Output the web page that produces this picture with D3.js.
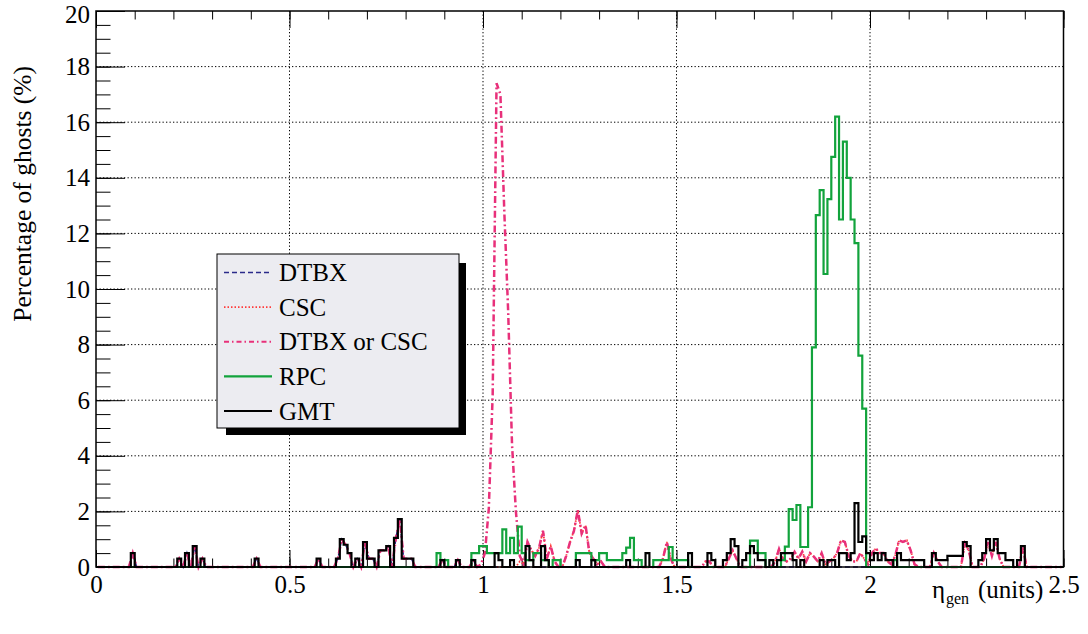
<!DOCTYPE html>
<html>
<head>
<meta charset="utf-8">
<script src="https://cdn.jsdelivr.net/npm/d3@7"></script>
<style>
  body { margin: 0; background: #fff; }
  svg { display: block; }
  svg text { font-family: "Liberation Serif", "Times New Roman", Times, "DejaVu Serif", serif !important; }
</style>
</head>
<body>
<div id="chart"></div>
<script>
// eta_gen histogram: 250 bins of 0.01 from 0 to 2.5
const etaRange = [0, 2.5];
const binWidth = 0.01;
const xTicks = [0, 0.5, 1, 1.5, 2, 2.5];
const yTicks = [0, 2, 4, 6, 8, 10, 12, 14, 16, 18, 20];
const seriesNames = ['DTBX', 'CSC', 'DTBX or CSC', 'RPC', 'GMT'];

const gmt = [
  0,0,0,0,0, 0,0,0,0,0.5, 0,0,0,0,0, 0,0,0,0,0, 0,0.3,0,0.5,0,
  0.75,0,0.3,0,0, 0,0,0,0,0, 0,0,0,0,0, 0,0.3,0,0,0, 0,0,0,0,0,
  0,0,0,0,0, 0,0,0.3,0,0, 0,0,0.3,1.0,0.8, 0.5,0,0.3,0,0.9, 0.3,0.3,0,0.6,0.6,
  0.75,0,1.05,1.72,0.3, 0.3,0.3,0,0,0, 0,0,0,0,0.25, 0,0,0,0.25,0, 0,0,0.25,0,0,
  0,0,0,0.5,0.25, 0,0,0.25,0,0, 0,0.75,0.25,0,0, 0.75,0.25,0,0,0, 0,0,0,0,0.25,
  0,0,0,0.25,0, 0,0,0,0,0, 0,0,0.25,0,0, 0,0,0.5,0,0, 0,0,0,0,0,
  0,0,0,0.5,0, 0,0,0,0.5,0.25, 0,0,0.25,0.5,1.0, 0.75,0,0.25,0.5,0.75, 0.5,0.25,0.25,0,0.25,
  0,0.25,0.5,0.5,0.5, 0.25,0,0.25,0,0, 0,0,0.25,0,0.25, 0.25,0,0.5,0.5,0.25, 0.5,2.3,0.9,1.1,0.5,
  0.25,0.5,0.25,0.5,0.25, 0.25,0,0.5,0.25,0.25, 0.25,0.25,0.25,0.25,0, 0,0.5,0.25,0.25,0.25, 0.4,0.4,0.4,0.4,0.9,
  0.75,0,0,0.25,0.5, 1.0,0.6,1.0,0.5,0.5, 0.25,0.25,0,0.25,0.75, 0,0,0,0,0, 0,0,0,0,0
];

const rpc = [
  0,0,0,0,0, 0,0,0,0,0, 0,0,0,0,0, 0,0,0,0,0, 0,0,0,0,0,
  0,0,0,0,0, 0,0,0,0,0, 0,0,0,0,0, 0,0,0,0,0, 0,0,0,0,0,
  0,0,0,0,0, 0,0,0,0,0, 0,0,0,0,0, 0,0,0,0,0, 0,0,0,0,0,
  0,0,0,0,0, 0,0,0,0,0, 0,0,0,0.5,0.25, 0.25,0,0,0,0, 0,0,0.5,0.5,0.75,
  0.75,0.5,0.5,0.5,0.5, 1.35,0.5,1.05,0.5,1.45, 0.5,0.25,0.25,0.5,0.5, 0.25,0.25,0,0.25,0.25, 0,0,0,0,0.5,
  0.5,0.5,0.5,0.25,0.25, 0.5,0.5,0.25,0.25,0.25, 0.25,0.5,0.7,1.05,0.25, 0.25,0,0,0,0.25, 0.25,0.25,0.25,0.72,0.25,
  0.25,0.25,0.25,0,0, 0,0,0,0,0, 0,0,0,0,0, 0,0,0,0,0.95, 0.95,0.5,0.5,0,0,
  0,0,0.25,0.73,2.08, 1.69,2.23,0.72,0.72,2.15, 7.9,12.66,13.56,10.54,13.23, 14.75,16.2,12.5,15.3,14.0, 12.5,11.65,7.6,5.7,0,
  0,0,0,0,0, 0,0.25,0,0,0, 0,0,0,0,0, 0,0,0,0,0, 0,0,0,0,0,
  0,0,0,0,0, 0,0,0,0,0, 0,0,0,0,0, 0,0,0,0,0, 0,0,0,0,0
];

const dtbxOrCsc = [
  0,0,0,0,0, 0,0,0,0,0.5, 0,0,0,0,0, 0,0,0,0,0, 0,0.3,0,0.5,0,
  0.75,0,0.3,0,0, 0,0,0,0,0, 0,0,0,0,0, 0,0.3,0,0,0, 0,0,0,0,0,
  0,0,0,0,0, 0,0,0.3,0,0, 0,0,0.3,1.0,0.8, 0.5,0,0.3,0,0.9, 0.3,0.3,0,0.6,0.6,
  0.75,0,1.05,1.72,0.3, 0.3,0.3,0,0,0, 0,0,0,0,0.25, 0,0,0,0.25,0, 0,0,0.25,0,0.1,
  0.5,2.1,6.2,17.4,17.0, 12.8,9.2,4.4,2.0,0.4, 0.1,0.9,0.6,0.4,0.7, 1.3,0.3,0.75,0.2,0, 0,0.4,0.9,1.3,2.05,
  1.2,1.5,0.5,0.3,0.1, 0.2,0,0,0,0, 0,0,0,0,0, 0,0,0,0,0, 0,0.3,0.9,0.3,0,
  0,0,0,0,0, 0,0,0.2,0.2,0, 0,0,0,0.3,0.6, 0.3,0,0,0,0, 0,0,0,0,0,
  0.2,0.65,0.3,0.2,0.3, 0.55,0.3,0.55,0.2,0.5, 0.37,0.2,0.5,0.1,0.2, 0.3,0.5,0.96,0.9,0.4, 0.2,0.2,0.5,0.3,0.1,
  0.5,0.67,0.5,0.5,0.2, 0.1,0.4,0.96,0.9,0.96, 0.6,0.1,0,0,0, 0,0.5,0.2,0,0, 0,0,0,0,0.85,
  0.6,0,0,0,0.3, 0.9,0.4,0.9,0.3,0, 0,0,0,0,0.7, 0,0,0,0,0, 0,0,0,0,0
];

const csc = [
  0,0,0,0,0, 0,0,0,0,0, 0,0,0,0,0, 0,0,0,0,0, 0,0,0,0,0,
  0,0,0,0,0, 0,0,0,0,0, 0,0,0,0,0, 0,0,0,0,0, 0,0,0,0,0,
  0,0,0,0,0, 0,0,0,0,0, 0,0,0,0,0, 0,0,0,0,0, 0,0,0,0,0,
  0,0,0,0,0, 0,0,0,0,0, 0,0,0,0,0, 0,0,0,0,0, 0,0,0,0,0,
  0,0,0,0,0, 0,0,0,0,0.2, 0.1,0.9,0.6,0.4,0.7, 1.3,0.3,0.75,0.2,0, 0,0.4,0.9,1.3,2.05,
  1.2,1.5,0.5,0.3,0.1, 0.2,0,0,0,0, 0,0,0,0,0, 0,0,0,0,0, 0,0.3,0.9,0.3,0,
  0,0,0,0,0, 0,0,0.2,0.2,0, 0,0,0,0.3,0.6, 0.3,0,0,0,0, 0,0,0,0,0,
  0.2,0.65,0.3,0.2,0.3, 0.55,0.3,0.55,0.2,0.5, 0.37,0.2,0.5,0.1,0.2, 0.3,0.5,0.96,0.9,0.4, 0.2,0.2,0.5,0.3,0.1,
  0.5,0.67,0.5,0.5,0.2, 0.1,0.4,0.96,0.9,0.96, 0.6,0.1,0,0,0, 0,0.5,0.2,0,0, 0,0,0,0,0.85,
  0.6,0,0,0,0.3, 0.9,0.4,0.9,0.3,0, 0,0,0,0,0.7, 0,0,0,0,0, 0,0,0,0,0
];

const dtbx = [
  0,0,0,0,0, 0,0,0,0,0.5, 0,0,0,0,0, 0,0,0,0,0, 0,0.3,0,0.5,0,
  0.75,0,0.3,0,0, 0,0,0,0,0, 0,0,0,0,0, 0,0.3,0,0,0, 0,0,0,0,0,
  0,0,0,0,0, 0,0,0.3,0,0, 0,0,0.3,1.0,0.8, 0.5,0,0.3,0,0.9, 0.3,0.3,0,0.6,0.6,
  0.75,0,1.05,1.72,0.3, 0.3,0.3,0,0,0, 0,0,0,0,0.25, 0,0,0,0.25,0, 0,0,0.25,0,0,
  0,0,0,0,0, 0,0,0,0,0, 0,0,0,0,0, 0,0,0,0,0, 0,0,0,0,0,
  0,0,0,0,0, 0,0,0,0,0, 0,0,0,0,0, 0,0,0,0,0, 0,0,0,0,0,
  0,0,0,0,0, 0,0,0,0,0, 0,0,0,0,0, 0,0,0,0,0, 0,0,0,0,0,
  0,0,0,0,0, 0,0,0,0,0, 0,0,0,0,0, 0,0,0,0,0, 0,0,0,0,0,
  0,0,0,0,0, 0,0,0,0,0, 0,0,0,0,0, 0,0,0,0,0, 0,0,0,0,0,
  0,0,0,0,0, 0,0,0,0,0, 0,0,0,0,0, 0,0,0,0,0, 0,0,0,0,0
];

const width = 1088, height = 634;
const frame = { left: 96, right: 1063.5, top: 11, bottom: 567 };
const fontSize = 25;
const serif = '"Liberation Serif", "Times New Roman", Times, "DejaVu Serif", serif';

const svg = d3.select('#chart')
  .append('svg')
    .attr('width', width)
    .attr('height', height)
    .attr('font-family', serif)
    .style('background', 'white');

const x = d3.scaleLinear().domain(etaRange).range([frame.left, frame.right]);
const y = d3.scaleLinear().domain([0, 20]).range([frame.bottom, frame.top]);

// grid (dotted)
const grid = svg.append('g').attr('stroke', '#000').attr('stroke-width', 1).attr('stroke-dasharray', '1.3,2.2');
grid.selectAll('line.gx')
  .data(xTicks.slice(1, -1))
  .join('line')
    .attr('x1', d => x(d)).attr('x2', d => x(d))
    .attr('y1', frame.top).attr('y2', frame.bottom);
grid.selectAll('line.gy')
  .data(yTicks.slice(1, -1))
  .join('line')
    .attr('x1', frame.left).attr('x2', frame.right)
    .attr('y1', d => y(d)).attr('y2', d => y(d));

// axes: ticks point inward like ROOT
const minorY = d3.range(0, 20.01, 0.5);
const minorX = d3.range(0, 2.501, 0.1);

function styleLabels(g) {
  g.attr('font-family', serif);
  g.selectAll('text').style('font-size', fontSize + 'px').style('font-family', serif).attr('fill', '#000');
}

svg.append('g')
  .attr('transform', `translate(${frame.left},0)`)
  .call(d3.axisLeft(y).tickValues(minorY).tickSize(-14.5).tickFormat(''))
  .call(g => g.select('.domain').remove());
svg.append('g')
  .attr('transform', `translate(${frame.left},0)`)
  .call(d3.axisLeft(y).tickValues(yTicks).tickSize(-29).tickPadding(6).tickFormat(d => d))
  .call(g => g.select('.domain').remove())
  .call(styleLabels)
  .call(g => g.selectAll('.tick').filter(d => d === 20).select('text').attr('dy', '0.45em'));

svg.append('g')
  .attr('transform', `translate(0,${frame.bottom})`)
  .call(d3.axisBottom(x).tickValues(minorX).tickSize(-8.5).tickFormat(''))
  .call(g => g.select('.domain').remove());
svg.append('g')
  .attr('transform', `translate(0,${frame.bottom})`)
  .call(d3.axisBottom(x).tickValues(xTicks).tickSize(-17).tickPadding(8).tickFormat(d => d))
  .call(g => g.select('.domain').remove())
  .call(styleLabels);

svg.append('g')
  .attr('transform', `translate(0,${frame.top})`)
  .call(d3.axisTop(x).tickValues(minorX).tickSize(-8.5).tickFormat(''))
  .call(g => g.select('.domain').remove());
svg.append('g')
  .attr('transform', `translate(0,${frame.top})`)
  .call(d3.axisTop(x).tickValues(xTicks).tickSize(-17).tickFormat(''))
  .call(g => g.select('.domain').remove());

// histograms
function stepPoints(vals) {
  const pts = [[etaRange[0], 0]];
  vals.forEach((v, i) => pts.push([etaRange[0] + i * binWidth, v]));
  pts.push([etaRange[1], vals[vals.length - 1]]);
  pts.push([etaRange[1], 0]);
  return pts;
}
function centerPoints(vals) {
  return vals.map((v, i) => [etaRange[0] + (i + 0.5) * binWidth, v]);
}
const stepLine = d3.line().x(d => x(d[0])).y(d => y(d[1])).curve(d3.curveStepAfter);
const polyLine = d3.line().x(d => x(d[0])).y(d => y(d[1]));

const styles = {
  'DTBX':        { color: '#2a2a8a', dash: '5,3',         width: 1.5 },
  'CSC':         { color: '#ff3a3a', dash: '1.5,2',       width: 1.8 },
  'DTBX or CSC': { color: '#e8307a', dash: '7,3,1.8,3',   width: 2.5 },
  'RPC':         { color: '#12a33c', dash: null,          width: 2.2 },
  'GMT':         { color: '#000000', dash: null,          width: 2.2 }
};

const plot = svg.append('g');
const drawn = [
  { name: 'DTBX', pts: centerPoints(dtbx), gen: polyLine },
  { name: 'CSC', pts: centerPoints(csc), gen: polyLine },
  { name: 'DTBX or CSC', pts: centerPoints(dtbxOrCsc), gen: polyLine },
  { name: 'RPC', pts: stepPoints(rpc), gen: stepLine },
  { name: 'GMT', pts: stepPoints(gmt), gen: stepLine }
];
drawn.forEach(s => {
  plot.append('path')
    .attr('d', s.gen(s.pts))
    .attr('fill', 'none')
    .attr('stroke', styles[s.name].color)
    .attr('stroke-width', styles[s.name].width)
    .attr('stroke-dasharray', styles[s.name].dash)
    .attr('stroke-linejoin', 'miter');
});

// frame
svg.append('rect')
  .attr('x', frame.left).attr('y', frame.top)
  .attr('width', frame.right - frame.left).attr('height', frame.bottom - frame.top)
  .attr('fill', 'none').attr('stroke', '#000').attr('stroke-width', 1.5);

// axis titles
svg.append('text')
  .attr('transform', 'translate(31,66) rotate(-90)')
  .attr('text-anchor', 'end')
  .style('font-size', '25.5px')
  .text('Percentage of ghosts (%)');

svg.append('text').attr('x', 932).attr('y', 598).style('font-size', fontSize + 'px').text('η');
svg.append('text').attr('x', 946).attr('y', 604).style('font-size', '16px').text('gen');
svg.append('text').attr('x', 978).attr('y', 598).style('font-size', fontSize + 'px').text('(units)');

// legend
const legend = svg.append('g');
legend.append('rect')
  .attr('x', 226).attr('y', 263).attr('width', 240).attr('height', 172)
  .attr('fill', '#000');
legend.append('rect')
  .attr('x', 217).attr('y', 254).attr('width', 242).attr('height', 174)
  .attr('fill', '#ececf1').attr('stroke', '#000').attr('stroke-width', 1);

const legendY = d3.scalePoint().domain(seriesNames).range([272.5, 411]);
seriesNames.forEach(name => {
  const yy = legendY(name);
  legend.append('line')
    .attr('x1', 224).attr('x2', 272).attr('y1', yy).attr('y2', yy)
    .attr('stroke', styles[name].color)
    .attr('stroke-width', name === 'DTBX or CSC' ? 2 : styles[name].width)
    .attr('stroke-dasharray', name === 'DTBX or CSC' ? '5,3,1.5,3' : styles[name].dash);
  legend.append('text')
    .attr('x', 279).attr('y', yy + 8.5)
    .style('font-size', fontSize + 'px')
    .text(name);
});
</script>
</body>
</html>
